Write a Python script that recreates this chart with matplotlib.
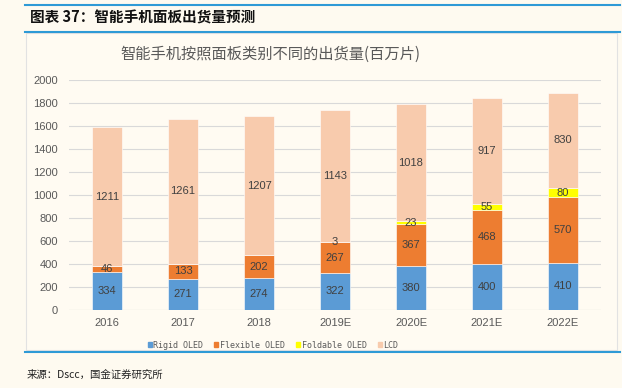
import matplotlib
matplotlib.use("Agg")
import matplotlib.pyplot as plt
from matplotlib.patches import Rectangle
from matplotlib.lines import Line2D
import numpy as np

categories = ["2016", "2017", "2018", "2019E", "2020E", "2021E", "2022E"]
rigid = [334, 271, 274, 322, 380, 400, 410]
flexible = [46, 133, 202, 267, 367, 468, 570]
foldable = [0, 0, 0, 3, 23, 55, 80]
lcd = [1211, 1261, 1207, 1143, 1018, 917, 830]
series_names = ["Rigid OLED", "Flexible OLED", "Foldable OLED", "LCD"]
colors = ["#5B9BD5", "#ED7D31", "#FFFF00", "#F8CBAD"]
yticks = [0, 200, 400, 600, 800, 1000, 1200, 1400, 1600, 1800, 2000]

plt.rcParams['font.family'] = ['Noto Sans CJK SC', 'DejaVu Sans']
W, H = 622, 388
bg = "#FEFAF0"
fig = plt.figure(figsize=(W/100, H/100), dpi=100, facecolor=bg)

def fx(px): return px / W
def fy(py): return 1 - py / H

# header lines and box
fig.add_artist(Rectangle((fx(26), fy(350)), fx(617) - fx(26), fy(33) - fy(350),
                         facecolor="#FFFBF2", edgecolor="#E2E2E2", lw=0.8, zorder=-5))
fig.add_artist(Line2D([fx(25), fx(620)], [fy(5), fy(5)], color="#2E9AD6", lw=1.5))
fig.add_artist(Line2D([fx(25), fx(620)], [fy(32), fy(32)], color="#2E9AD6", lw=1.5))
fig.add_artist(Line2D([fx(25), fx(620)], [fy(352), fy(352)], color="#2E9AD6", lw=1.5))
fig.text(fx(30), fy(18), "图表 37：智能手机面板出货量预测", fontsize=10.5, fontweight="bold",
         fontstyle="italic", va="center", ha="left", color="#111111")
fig.text(fx(27), fy(375), "来源：Dscc，国金证券研究所", fontsize=7.5, va="center", ha="left",
         color="#222222")
fig.text(fx(270), fy(54), "智能手机按照面板类别不同的出货量(百万片)", fontsize=11,
         va="center", ha="center", color="#595959")

ax = fig.add_axes([fx(69), fy(310), fx(601) - fx(69), fy(80) - fy(310)])
ax.set_zorder(3)
ax.set_facecolor("none")
x = np.arange(len(categories))
data = [rigid, flexible, foldable, lcd]
bottom = np.zeros(len(categories))
for vals, c, name in zip(data, colors, series_names):
    v = np.array(vals, dtype=float)
    ax.bar(x, v, 0.395, bottom=bottom, color=c, edgecolor="white", linewidth=0.4,
           label=name, zorder=3)
    for xi, vi, bi in zip(x, v, bottom):
        if vi > 0:
            ax.text(xi, bi + vi / 2, f"{int(vi)}", ha="center", va="center", fontsize=8,
                    color="#404040", family="Liberation Sans", zorder=4)
    bottom += v

ax.set_xlim(-0.5, 6.5)
ax.set_ylim(0, 2000)
ax.set_yticks(yticks)
ax.set_xticks(x)
ax.set_xticklabels(categories)
for lbl in ax.get_xticklabels() + ax.get_yticklabels():
    lbl.set_family("Liberation Sans")
    lbl.set_color("#595959")
    lbl.set_fontsize(8)
ax.tick_params(length=0, pad=6)
ax.tick_params(axis='y', pad=8)
ax.grid(axis='y', color="#D9D9D9", lw=0.8, zorder=0)
for s in ax.spines.values():
    s.set_visible(False)
ax.axhline(0, color="#D9D9D9", lw=0.8, zorder=2)

handles = [Rectangle((0, 0), 1, 1, color=c) for c in colors]
leg = fig.legend(handles, series_names, loc="center", bbox_to_anchor=(fx(273), fy(345)),
                 ncol=4, frameon=False, handlelength=0.5, handleheight=0.5,
                 handletextpad=0.2, columnspacing=1.3, labelcolor="#595959",
                 prop={"family": "DejaVu Sans Mono", "size": 6})

fig.savefig("out.png", dpi=100, facecolor=bg)
